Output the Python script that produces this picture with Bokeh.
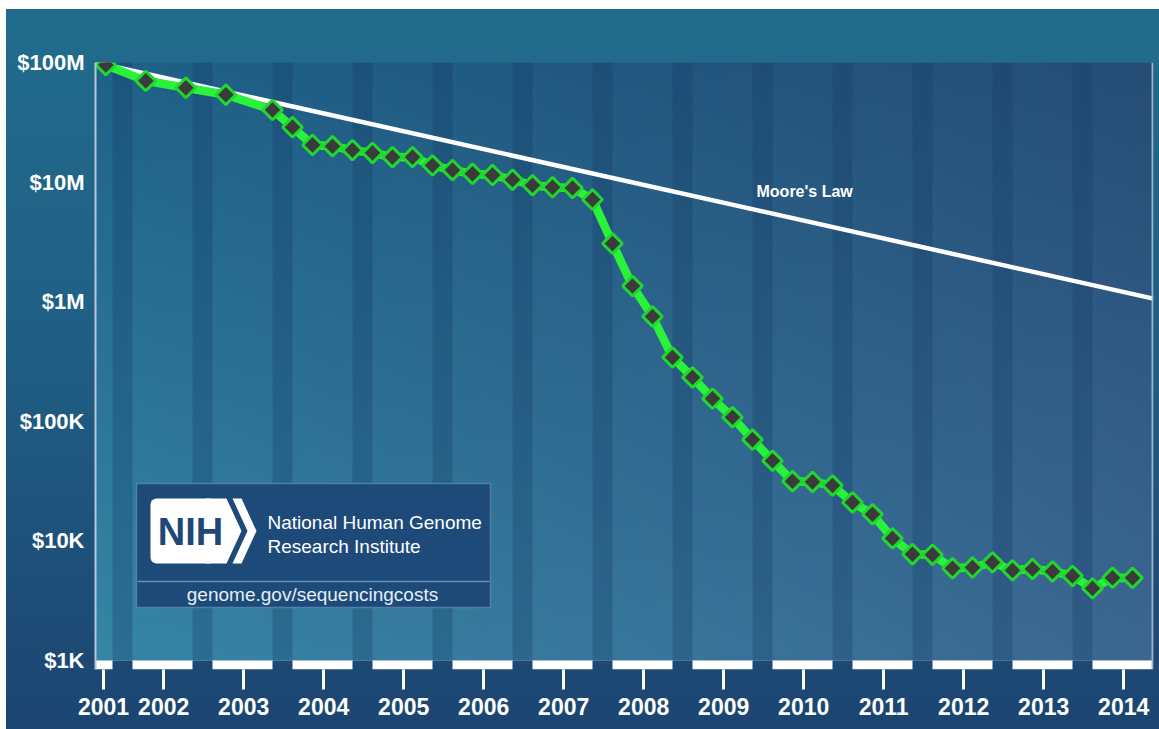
import numpy as np
from bokeh.plotting import figure
from bokeh.models import (FixedTicker, CustomJSTickFormatter, Span, Label,
                          BoxAnnotation, PolyAnnotation, InlineStyleSheet, Range1d)
from bokeh.embed import file_html
from bokeh.resources import INLINE

# ---------------- data ----------------
dates = ["2001-09", "2002-03", "2002-09", "2003-03", "2003-10",
         "2004-01", "2004-04", "2004-07", "2004-10",
         "2005-01", "2005-04", "2005-07", "2005-10",
         "2006-01", "2006-04", "2006-07", "2006-10",
         "2007-01", "2007-04", "2007-07", "2007-10",
         "2008-01", "2008-04", "2008-07", "2008-10",
         "2009-01", "2009-04", "2009-07", "2009-10",
         "2010-01", "2010-04", "2010-07", "2010-10",
         "2011-01", "2011-04", "2011-07", "2011-10",
         "2012-01", "2012-04", "2012-07", "2012-10",
         "2013-01", "2013-04", "2013-07", "2013-10",
         "2014-01", "2014-04", "2014-07"]
cost_per_genome = [95263072, 70175437, 61448422, 53751684, 40157554,
                   28780376, 20442576, 19934346, 18519312,
                   17534970, 16159699, 16180224, 13801124,
                   12585659, 11732535, 11455315, 10474556,
                   9408739, 9047003, 8927342, 7147571,
                   3063820, 1352982, 752080, 342502,
                   232735, 154714, 108065, 70333,
                   46774, 31512, 31125, 29092,
                   20963, 16712, 10497, 7743,
                   7666, 5901, 5985, 6618,
                   5671, 5826, 5550, 5096,
                   4008, 4920, 4905]
moore_x = [2001.54, 2014.76]
moore_cost = [1.0e8, 1.06e6]
years = list(range(2001, 2015))
y_tick_values = [1e3, 1e4, 1e5, 1e6, 1e7, 1e8]
y_tick_labels = ["$1K", "$10K", "$100K", "$1M", "$10M", "$100M"]

t = [int(d[:4]) + (int(d[5:]) - 1) / 12 for d in dates]

X0 = 2001.5375
X1 = X0 + 1058 / 80
Y0, Y1 = 10 ** (3 - 9 / 119.6), 1e8

p = figure(width=1159, height=729, output_backend="svg", toolbar_location=None,
           x_range=Range1d(X0, X1), y_range=Range1d(Y0, Y1), y_axis_type="log",
           min_border_left=95, min_border_right=6, min_border_top=62, min_border_bottom=60)
p.border_fill_alpha = 0
p.background_fill_alpha = 0
p.outline_line_color = None
p.stylesheets = [InlineStyleSheet(css=(
    ":host { background: "
    "linear-gradient(to right, #ffffff 0px, #ffffff 6px, rgba(255,255,255,0) 6px), "
    "linear-gradient(to bottom, #ffffff 0px, #ffffff 9px, #216c8c 9px, #205f85 45%, #1c4571 100%); }"))]

# plot-area gradient
rows, cols = 150, 264
v = np.linspace(0, 1, rows)[:, None, None]
u = np.linspace(0, 1, cols)[None, :, None]
BL = np.array([54, 134, 166]); TL = np.array([31, 97, 136])
TR = np.array([37, 77, 118]); BR = np.array([60, 103, 145])
rgb = (BL * (1 - u) * (1 - v) + BR * u * (1 - v) + TL * (1 - u) * v + TR * u * v)
img = np.empty((rows, cols, 4), dtype=np.uint8)
img[..., :3] = np.clip(rgb, 0, 255).astype(np.uint8)
img[..., 3] = 255
p.image_rgba(image=[img.view(np.uint32).reshape(rows, cols)], x=X0, y=1e3,
             dw=X1 - X0, dh=1e8 - 1e3)

# darker Oct-Dec stripes
p.quad(left=[y + 0.75 for y in years], right=[y + 1.0 for y in years],
       bottom=1e3, top=1e8, fill_color="#143d66", fill_alpha=0.3, line_color=None)
# white year bars under the plot
p.quad(left=[y for y in years], right=[y + 0.75 for y in years],
       bottom=Y0, top=1e3, fill_color="white", line_color=None)

# right border
p.add_layout(Span(location=X1 - 0.012, dimension="height", line_color="#a3b6c6", line_width=2))

# Moore's law
p.line(moore_x, moore_cost, line_color="white", line_width=4.5)
p.add_layout(Label(x=2009.80, y=8.35e6, text="Moore's Law", text_color="white",
                   text_font="Liberation Sans", text_font_style="bold", text_font_size="16px",
                   text_baseline="middle", text_align="left"))

# cost per genome
p.line(t, cost_per_genome, line_color="#2af23a", line_width=8.5)
p.scatter(t, cost_per_genome, marker="square", angle=np.pi / 4, size=14,
          fill_color="#3b3b3b", line_color="#22d630", line_width=3)

# axes
xa = p.xaxis[0]
xa.ticker = FixedTicker(ticks=[2001.6375] + [y + 0.39 for y in years[1:]], minor_ticks=[])
xa.formatter = CustomJSTickFormatter(code="return String(Math.floor(tick));")
xa.axis_line_color = None
xa.major_tick_line_color = "white"
xa.major_tick_line_width = 3
xa.major_tick_out = 20
xa.major_tick_in = 0
xa.minor_tick_line_color = None
xa.major_label_standoff = 8
xa.major_label_text_color = "white"
xa.major_label_text_font = "Liberation Sans"
xa.major_label_text_font_style = "bold"
xa.major_label_text_font_size = "23px"

ya = p.yaxis[0]
ya.ticker = FixedTicker(ticks=y_tick_values, minor_ticks=[])
ya.formatter = CustomJSTickFormatter(args=dict(labels=y_tick_labels),
                                     code="return labels[Math.round(Math.log10(tick)) - 3];")
ya.axis_line_color = "#b9c7d3"
ya.axis_line_width = 2
ya.major_tick_line_color = None
ya.minor_tick_line_color = None
ya.major_label_standoff = 5
ya.major_label_text_color = "white"
ya.major_label_text_font = "Liberation Sans"
ya.major_label_text_font_style = "bold"
ya.major_label_text_font_size = "22px"

p.xgrid.grid_line_color = None
p.ygrid.grid_line_color = "#9bbad0"
p.ygrid.grid_line_alpha = 0.6
p.ygrid.grid_line_width = 1

# NIH badge (screen units relative to the plot frame)
def box(l, r, tp, b, **kw):
    return BoxAnnotation(left=l, right=r, top=tp, bottom=b,
                         left_units="screen", right_units="screen",
                         top_units="screen", bottom_units="screen", **kw)

p.add_layout(box(41, 395, 186, 62, fill_color="#1d4a78", fill_alpha=1,
                 line_color="#5a88ad", line_width=1.5, line_alpha=0.8))
p.add_layout(box(42, 394, 88.8, 87.2, fill_color="#6a97bb", fill_alpha=0.9, line_color=None))
p.add_layout(box(55, 120, 171, 106, fill_color="white", fill_alpha=1, line_color=None, border_radius=6))
p.add_layout(PolyAnnotation(xs=[110, 131, 146, 131, 110], ys=[171, 171, 138.5, 106, 106],
                            xs_units="screen", ys_units="screen",
                            fill_color="white", fill_alpha=1, line_color=None))
p.add_layout(PolyAnnotation(xs=[137, 146, 161, 146, 137, 152], ys=[171, 171, 138.5, 106, 106, 138.5],
                            xs_units="screen", ys_units="screen",
                            fill_color="white", fill_alpha=1, line_color=None))
p.add_layout(Label(x=95, y=138, x_units="screen", y_units="screen", text="NIH",
                   text_color="#1d4878", text_font="Liberation Sans", text_font_style="bold",
                   text_font_size="38px", text_align="center", text_baseline="middle"))
p.add_layout(Label(x=172, y=147, x_units="screen", y_units="screen", text="National Human Genome",
                   text_color="white", text_font="Liberation Sans", text_font_size="19px",
                   text_align="left", text_baseline="middle"))
p.add_layout(Label(x=172, y=123, x_units="screen", y_units="screen", text="Research Institute",
                   text_color="white", text_font="Liberation Sans", text_font_size="19px",
                   text_align="left", text_baseline="middle"))
p.add_layout(Label(x=217, y=75, x_units="screen", y_units="screen", text="genome.gov/sequencingcosts",
                   text_color="#e6eef5", text_font="Liberation Sans", text_font_size="19px",
                   text_align="center", text_baseline="middle"))

open("out.html", "w").write(file_html(p, INLINE))
